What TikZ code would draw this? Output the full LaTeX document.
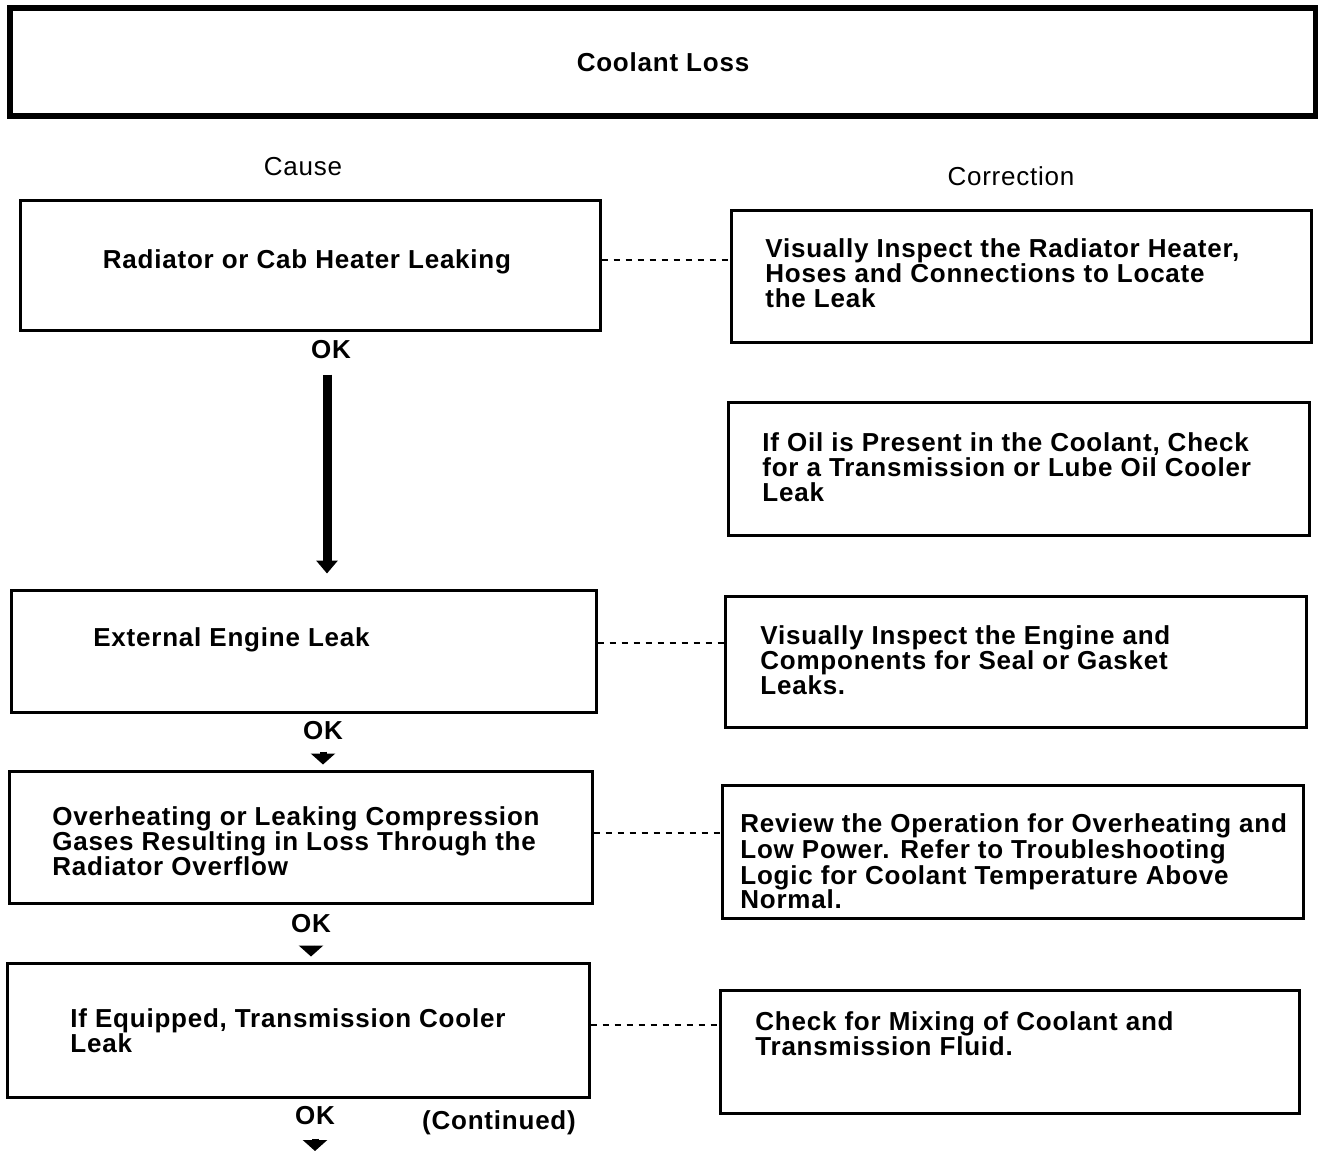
\documentclass[tikz,border=0pt]{standalone}
\usepackage{fontspec}
\setmainfont{Liberation Sans}[LetterSpace=3]
\usetikzlibrary{arrows.meta}
\setlength{\lineskiplimit}{-20pt}
\begin{document}
\begin{tikzpicture}[x=0.5pt,y=-0.5pt,
  font=\fontsize{13}{12.5}\selectfont\bfseries,
  box/.style={draw, line width=1.5pt, inner sep=0pt},
  titlebox/.style={draw, line width=3pt, inner sep=0pt},
  txt/.style={inner sep=0pt, align=left, anchor=north west},
  oklabel/.style={inner sep=0pt},
  head/.style={font=\fontsize{13}{12.5}\selectfont\mdseries, inner sep=0pt},
  link/.style={line width=1.2pt, dash pattern=on 3pt off 3pt},
  longarrow/.style={line width=4.5pt, -{Triangle[width=10.5pt,length=6.5pt]}},
  shortarrow/.style={line width=3.5pt, -{Triangle[width=12pt,length=5.5pt]}}
]
\useasboundingbox (0,0) rectangle (1318,1152);

% title
\node[titlebox, minimum width=653pt, minimum height=54pt] (title) at (663,62) {Coolant Loss};

% column heads
\node[head] (hcause) at (303,167) {Cause};
\node[head] (hcorr) at (1011,176) {Correction};

% cause column
\node[box, minimum width=290pt, minimum height=65pt] (cause1) at (310,265) {};
\node[inner sep=0pt] (cause1t) at (307,262) {Radiator or Cab Heater Leaking};

\node[box, minimum width=292.5pt, minimum height=61pt] (cause2) at (303.5,651) {};
\node[inner sep=0pt, anchor=west] (cause2t) at (93,640) {External Engine Leak};

\node[box, minimum width=291.5pt, minimum height=66pt] (cause3) at (300.5,837) {};
\node[txt] (cause3t) at (52,806) {Overheating or Leaking Compression\\Gases Resulting in Loss Through the\\Radiator Overflow};

\node[box, minimum width=291pt, minimum height=67pt] (cause4) at (298,1030) {};
\node[txt] (cause4t) at (70,1008) {If Equipped, Transmission Cooler\\Leak};

% correction column
\node[box, minimum width=290pt, minimum height=66pt] (corr1) at (1021,276) {};
\node[txt] (corr1t) at (765,238) {Visually Inspect the Radiator Heater,\\Hoses and Connections to Locate\\the Leak};

\node[box, minimum width=290.5pt, minimum height=66.5pt] (corr2) at (1018.5,468.5) {};
\node[txt] (corr2t) at (762,432) {If Oil is Present in the Coolant, Check\\for a Transmission or Lube Oil Cooler\\Leak};

\node[box, minimum width=290.5pt, minimum height=65.5pt] (corr3) at (1015.5,661.5) {};
\node[txt] (corr3t) at (760,625) {Visually Inspect the Engine and\\Components for Seal or Gasket\\Leaks.};

\node[box, minimum width=290.5pt, minimum height=66.5pt] (corr4) at (1012.5,851.5) {};
\node[txt, font=\fontsize{13}{13}\selectfont\bfseries] (corr4t) at (740,813) {Review the Operation for Overheating and\\Low Power. Refer to Troubleshooting\\Logic for Coolant Temperature Above\\[-1pt]Normal.};

\node[box, minimum width=289.5pt, minimum height=61.5pt] (corr5) at (1009.5,1051.5) {};
\node[txt] (corr5t) at (755,1011) {Check for Mixing of Coolant and\\Transmission Fluid.};

% cause to correction links
\draw[link] (cause1.east |- 0,260) -- (corr1.west |- 0,260);
\draw[link] (cause2.east |- 0,643) -- (corr3.west |- 0,643);
\draw[link] (cause3.east |- 0,833) -- (corr4.west |- 0,833);
\draw[link] (cause4.east |- 0,1025) -- (corr5.west |- 0,1025);

% OK flow
\node[oklabel] (ok1) at (331,350) {OK};
\node[oklabel] (ok2) at (323,731) {OK};
\node[oklabel] (ok3) at (311,924) {OK};
\node[oklabel] (ok4) at (315,1116) {OK};
\node[inner sep=0pt] (cont) at (499,1123) {(Continued)};
\coordinate (next) at (315,1151);

\draw[longarrow, shorten <=7.5pt, shorten >=7.5pt] ([xshift=-2pt]ok1.south) -- ([xshift=-2pt]ok1.south |- cause2.north);
\draw[shortarrow, shorten <=5.5pt, shorten >=2.5pt] (ok2.south) -- (ok2.south |- cause3.north);
\draw[shortarrow, shorten <=6pt, shorten >=2.5pt] (ok3.south) -- (ok3.south |- cause4.north);
\draw[shortarrow, shorten <=6.5pt] (ok4.south) -- (next);
\end{tikzpicture}
\end{document}
